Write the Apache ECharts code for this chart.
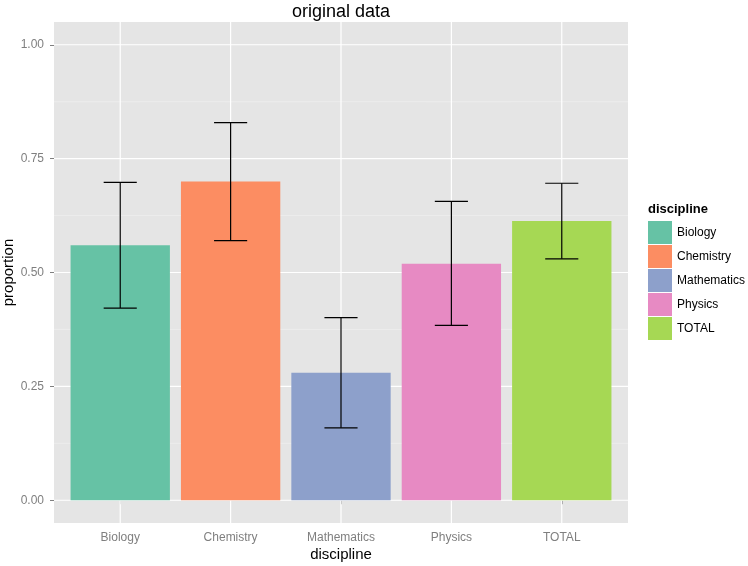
<!DOCTYPE html>
<html>
<head>
<meta charset="utf-8">
<script src="https://cdn.jsdelivr.net/npm/echarts@6/dist/echarts.min.js"></script>
<style>html,body{margin:0;padding:0;background:#fff;}#c{width:748px;height:566px;}</style>
</head>
<body>
<div id="c"></div>
<script>
const categories = ['Biology', 'Chemistry', 'Mathematics', 'Physics', 'TOTAL'];
const proportion = [0.560, 0.700, 0.280, 0.519, 0.613];
const lower = [0.422, 0.570, 0.159, 0.384, 0.530];
const upper = [0.698, 0.829, 0.401, 0.656, 0.696];
const colors = ['#66C2A5', '#FC8D62', '#8DA0CB', '#E78AC3', '#A6D854'];
const yMajor = [0, 0.25, 0.5, 0.75, 1.0];
const yMinor = [0.125, 0.375, 0.625, 0.875];
const yTickLabels = ['0.00', '0.25', '0.50', '0.75', '1.00'];

const XMIN = 0.4, XMAX = 5.6, YMIN = -0.05, YMAX = 1.05;
const FONT = 'Liberation Sans, Arial, sans-serif';

const chart = echarts.init(document.getElementById('c'), null, {renderer: 'canvas'});

function hLine(color, width) {
  return function (params, api) {
    const v = api.value(0);
    const a = api.coord([XMIN, v]);
    const b = api.coord([XMAX, v]);
    return {type: 'line', shape: {x1: a[0], y1: a[1], x2: b[0], y2: b[1]},
      style: {stroke: color, lineWidth: width}, silent: true};
  };
}
function vLine(color, width) {
  return function (params, api) {
    const v = api.value(0);
    const a = api.coord([v, YMIN]);
    const b = api.coord([v, YMAX]);
    return {type: 'line', shape: {x1: a[0], y1: a[1], x2: b[0], y2: b[1]},
      style: {stroke: color, lineWidth: width}, silent: true};
  };
}

const barSeries = categories.map((name, i) => ({
  name: name,
  type: 'custom',
  z: 3,
  itemStyle: {color: colors[i]},
  data: [[i + 1, proportion[i]]],
  renderItem: function (params, api) {
    const x = api.value(0), y = api.value(1);
    const tl = api.coord([x - 0.45, y]);
    const br = api.coord([x + 0.45, 0]);
    return {type: 'rect', shape: {x: tl[0], y: tl[1], width: br[0] - tl[0], height: br[1] - tl[1]},
      style: {fill: colors[i]}};
  }
}));

const errData = categories.map((c, i) => [i + 1, lower[i], upper[i]]);

const option = {
  animation: false,
  backgroundColor: '#ffffff',
  textStyle: {fontFamily: FONT},
  title: {
    text: 'original data',
    left: 341, top: 3, textAlign: 'center', padding: 0,
    textStyle: {fontSize: 18, fontWeight: 'normal', color: '#000', fontFamily: FONT}
  },
  grid: {left: 54, right: 120, top: 22, bottom: 43, show: true, backgroundColor: '#E5E5E5', borderWidth: 0,
    containLabel: false, outerBoundsMode: 'none'},
  xAxis: {
    type: 'value', min: XMIN, max: XMAX,
    name: 'discipline', nameLocation: 'middle', nameGap: 24, nameMoveOverlap: false,
    nameTextStyle: {fontSize: 15, color: '#000', fontFamily: FONT},
    axisLine: {show: false},
    splitLine: {show: false},
    axisTick: {show: true, length: 4, lineStyle: {color: '#7F7F7F', width: 1}, customValues: [1, 2, 3, 4, 5]},
    axisLabel: {customValues: [1, 2, 3, 4, 5], margin: 9, fontSize: 12, color: '#7F7F7F', fontFamily: FONT,
      formatter: function (v) { return categories[Math.round(v) - 1] || ''; }}
  },
  yAxis: {
    type: 'value', min: YMIN, max: YMAX,
    name: 'proportion', nameLocation: 'middle', nameGap: 38, nameMoveOverlap: false,
    nameTextStyle: {fontSize: 15, color: '#000', fontFamily: FONT},
    axisLine: {show: false},
    splitLine: {show: false},
    axisTick: {show: true, length: 4, lineStyle: {color: '#7F7F7F', width: 1}, customValues: yMajor},
    axisLabel: {customValues: yMajor, margin: 10, fontSize: 12, color: '#7F7F7F', fontFamily: FONT,
      formatter: function (v) { const k = yMajor.findIndex(t => Math.abs(t - v) < 1e-6); return k >= 0 ? yTickLabels[k] : ''; }}
  },
  legend: {
    orient: 'vertical', left: 648, top: 221, padding: 0,
    itemWidth: 24, itemHeight: 23, itemGap: 1,
    icon: 'rect',
    data: categories,
    textStyle: {fontSize: 12, color: '#000', fontFamily: FONT},
    selectedMode: false
  },
  graphic: [{
    type: 'text', left: 648, top: 203,
    style: {text: 'discipline', font: 'bold 13px ' + FONT, fill: '#000'}
  }],
  series: [
    {type: 'custom', z: 1, silent: true, data: yMinor.map(v => [v]), renderItem: hLine('#F2F2F2', 0.6)},
    {type: 'custom', z: 1, silent: true, data: yMajor.map(v => [v]), renderItem: hLine('#FFFFFF', 1.2)},
    {type: 'custom', z: 1, silent: true, data: [1, 2, 3, 4, 5].map(v => [v]), renderItem: vLine('#FFFFFF', 1.2)},
    ...barSeries,
    {
      type: 'custom', z: 5, silent: true, data: errData,
      renderItem: function (params, api) {
        const x = api.value(0), lo = api.value(1), hi = api.value(2);
        const pLo = api.coord([x, lo]), pHi = api.coord([x, hi]);
        const l = api.coord([x - 0.15, lo])[0], r = api.coord([x + 0.15, lo])[0];
        const st = {stroke: '#000', lineWidth: 1.2};
        return {type: 'group', children: [
          {type: 'line', shape: {x1: pLo[0], y1: pLo[1], x2: pHi[0], y2: pHi[1]}, style: st},
          {type: 'line', shape: {x1: l, y1: pLo[1], x2: r, y2: pLo[1]}, style: st},
          {type: 'line', shape: {x1: l, y1: pHi[1], x2: r, y2: pHi[1]}, style: st}
        ]};
      }
    }
  ]
};
chart.setOption(option);
</script>
</body>
</html>
